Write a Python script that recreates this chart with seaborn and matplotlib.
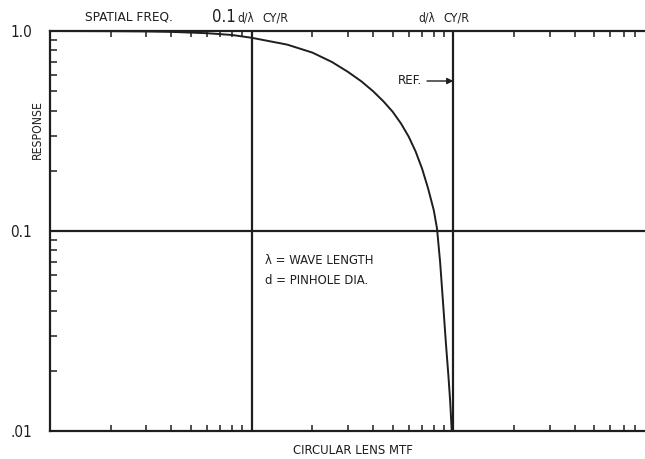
import numpy as np
import pandas as pd
import matplotlib
matplotlib.use("Agg")
import matplotlib.pyplot as plt
import seaborn as sns
from matplotlib.ticker import LogLocator, NullFormatter, FixedLocator

# ---- data ----
freq = [0.01, 0.02, 0.03, 0.04, 0.06, 0.08, 0.1, 0.15, 0.2, 0.25, 0.3, 0.35,
        0.4, 0.45, 0.5, 0.55, 0.6, 0.65, 0.7, 0.75, 0.8, 0.83, 0.86, 0.895,
        0.92, 0.945, 0.965, 0.982]
resp = [1.0, 0.998, 0.995, 0.99, 0.975, 0.955, 0.925, 0.855, 0.78, 0.70, 0.625,
        0.56, 0.50, 0.445, 0.395, 0.345, 0.297, 0.25, 0.205, 0.163, 0.127,
        0.103, 0.07, 0.04, 0.027, 0.019, 0.014, 0.01]
ref_x = [0.1, 1.0]
ref_y = [0.1]
ytick_vals = [0.01, 0.1, 1.0]
ytick_labels = [".01", "0.1", "1.0"]

df = pd.DataFrame({"freq": freq, "resp": resp})

sns.set_style("white")
plt.rcParams["font.family"] = ["DejaVu Sans"]
plt.rcParams["font.stretch"] = "condensed"

W, H = 645, 459
fig = plt.figure(figsize=(W / 100, H / 100), dpi=100)
ax = fig.add_axes([50 / W, 1 - 431 / H, 1 - 50 / W, 400 / H])

ink = "#1e1e1e"
sns.lineplot(data=df, x="freq", y="resp", ax=ax, color=ink, lw=1.4, sort=False)
ax.set_xscale("log")
ax.set_yscale("log")
ax.set_xlim(0.01, 10 ** ((645 - 453) / 202))
ax.set_ylim(0.01, 1.0)

for xv in ref_x:
    ax.axvline(xv, color=ink, lw=1.6)
for yv in ref_y:
    ax.axhline(yv, color=ink, lw=1.6)

for s in ["left", "top", "bottom"]:
    ax.spines[s].set_visible(True)
    ax.spines[s].set_color(ink)
    ax.spines[s].set_linewidth(1.6)
ax.spines["right"].set_visible(False)

ax.set_xlabel("")
ax.set_ylabel("")
ax.xaxis.set_major_locator(FixedLocator([]))
ax.xaxis.set_minor_locator(LogLocator(base=10, subs=np.arange(2, 10)))
ax.xaxis.set_minor_formatter(NullFormatter())
ax.tick_params(axis="x", which="minor", direction="in", top=True, bottom=True,
               length=4, width=1.1, color=ink)
ax.set_yticks(ytick_vals)
ax.set_yticklabels(ytick_labels)
ax.yaxis.set_minor_locator(LogLocator(base=10, subs=np.arange(2, 10)))
ax.yaxis.set_minor_formatter(NullFormatter())
ax.tick_params(axis="y", which="major", direction="in", length=0, pad=13,
               labelsize=11, labelcolor=ink)
ax.tick_params(axis="y", which="minor", direction="in", length=5, width=1.1,
               color=ink, left=True, right=False)

def ft(x, y, s, size=10, **kw):
    fig.text(x / W, 1 - y / H, s, fontsize=size, color=ink,
             fontstretch="condensed", **kw)

ft(85, 17, "SPATIAL FREQ.", 9.7, ha="left", va="center")
ft(212, 17, "0.1", 12, ha="left", va="center")
ft(237, 18, "d/λ", 8.5, ha="left", va="center")
ft(262, 18, "CY/R", 9, ha="left", va="center")
ft(418, 18, "d/λ", 8.5, ha="left", va="center")
ft(443, 18, "CY/R", 9, ha="left", va="center")
ft(37, 130, "RESPONSE", 8.7, ha="center", va="center", rotation=90)
ft(353, 450, "CIRCULAR LENS MTF", 9.4, ha="center", va="center")
ft(265, 261, "λ = WAVE LENGTH", 9.4, ha="left", va="center")
ft(265, 280, "d = PINHOLE DIA.", 9.4, ha="left", va="center")

ax.annotate("REF.", xy=(1.0, 10 ** (-(81 - 31) / 200)),
            xytext=(10 ** (-1 + (422 - 251) / 202), 10 ** (-(81 - 31) / 200)),
            ha="right", va="center", fontsize=9.5, color=ink,
            fontstretch="condensed",
            arrowprops=dict(arrowstyle="-|>", color=ink, lw=1.0,
                            shrinkA=1, shrinkB=0, mutation_scale=9))

fig.savefig("out.png", dpi=100)
